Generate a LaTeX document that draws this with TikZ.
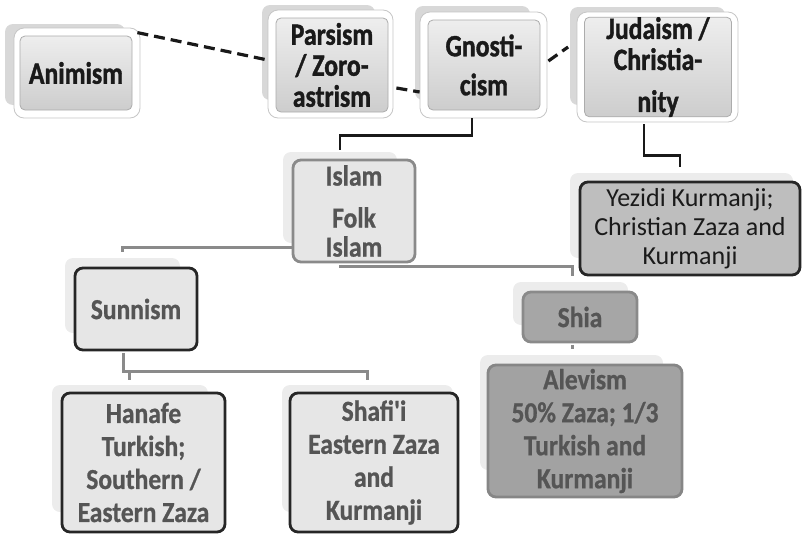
\documentclass[tikz,border=0pt]{standalone}
\usepackage{fontspec}
\setmainfont{Carlito}
\newfontfamily\topFam{Carlito}[FakeStretch=0.83, BoldFeatures={FakeBold=1.2}]
\newfontfamily\lowFam{Carlito}[FakeStretch=0.88, BoldFeatures={FakeBold=0.8}]
\definecolor{topA}{HTML}{EEEEEE}
\definecolor{topB}{HTML}{CDCDCD}
\definecolor{shTop}{HTML}{D8D8D8}
\definecolor{shLow}{HTML}{ECECEC}
\definecolor{fillLight}{HTML}{E6E6E6}
\definecolor{fillShia}{HTML}{A6A6A6}
\definecolor{fillAle}{HTML}{A2A2A2}
\definecolor{fillYez}{HTML}{BEBEBE}
\definecolor{txtDark}{HTML}{1A1A1A}
\definecolor{txtGray}{HTML}{555555}
\definecolor{lineGray}{HTML}{8A8A8A}
\newcommand{\myBoldFont}{\topFam\fontsize{31}{31}\selectfont\bfseries}
\newcommand{\myLowFont}{\lowFam\fontsize{29}{33}\selectfont\bfseries}
\newcommand{\myRegFont}{\fontsize{26}{29}\selectfont}
\tikzset{
  topbox/.style={draw=gray!65, line width=0.8pt, rounded corners=5pt, top color=topA, bottom color=topB,
    align=center, font=\myBoldFont, text=txtDark, inner sep=0pt},
  framebox/.style={fill=white, draw=gray!45, line width=0.8pt, rounded corners=10pt},
  shadowtop/.style={fill=shTop, rounded corners=8pt},
  shadowlow/.style={fill=shLow, rounded corners=8pt},
  lightbox/.style={draw=black!85, line width=2.8pt, rounded corners=8pt, fill=fillLight,
    align=center, font=\myLowFont, text=txtGray, inner sep=0pt},
  islambox/.style={lightbox, draw=lineGray},
  shiabox/.style={lightbox, draw=lineGray, fill=fillShia},
  alebox/.style={lightbox, draw=gray!95, fill=fillAle},
  yezbox/.style={lightbox, fill=fillYez, font=\myRegFont, text=txtDark},
  dashline/.style={draw=black!90, line width=3.2pt, dash pattern=on 11pt off 6pt},
  blkline/.style={draw=black!90, line width=2.8pt},
  gryline/.style={draw=lineGray, line width=3pt}
}
\begin{document}
\begin{tikzpicture}[x=1pt,y=-1pt]
\useasboundingbox (0,0) rectangle (803,533);
% shadows
\fill[shadowtop] (5,24) rectangle (125,105);
\fill[shadowtop] (262,5) rectangle (375,100);
\fill[shadowtop] (415,6) rectangle (530,100);
\fill[shadowtop] (570,7) rectangle (725,105);
\fill[shadowlow] (283,152) rectangle (397,243);
\fill[shadowlow] (570,173) rectangle (793,258);
\fill[shadowlow] (65,258) rectangle (180,333);
\fill[shadowlow] (513,282) rectangle (628,325);
\fill[shadowlow] (52,385) rectangle (208,512);
\fill[shadowlow] (282,385) rectangle (453,512);
\fill[shadowlow] (480,355) rectangle (663,470);
% white frames of the top boxes
\draw[framebox] (14,28) rectangle (140,118);
\draw[framebox] (268,10) rectangle (393,118);
\draw[framebox] (420,12) rectangle (547,118);
\draw[framebox] (577,12) rectangle (738,122);
% nodes
\node[topbox, minimum width=112pt, minimum height=74pt] (ani) at (76,73) {Animism};
\node[topbox, minimum width=112pt, minimum height=94pt] (par) at (332,65) {Parsism\\/ Zoro-\\astrism};
\node[topbox, minimum width=112pt, minimum height=90pt] (gno) at (484,65) {Gnosti-\\[8pt]cism};
\node[topbox, minimum width=147pt, minimum height=95pt] (jud) at (658,67) {Judaism /\\Christia-\\[11pt]nity};
\node[islambox, minimum width=122pt, minimum height=102pt] (isl) at (354,211) {Islam\\[9pt]Folk\\[-4pt]Islam};
\node[yezbox, minimum width=220pt, minimum height=93pt] (yez) at (690,228.5) {Yezidi Kurmanji;\\Christian Zaza and\\Kurmanji};
\node[lightbox, minimum width=122pt, minimum height=82pt] (sun) at (136,309) {Sunnism};
\node[shiabox, minimum width=114pt, minimum height=50pt] (shia) at (580,317) {Shia};
\node[alebox, minimum width=194pt, minimum height=132pt] (ale) at (585,431) {Alevism\\50\% Zaza; 1/3\\Turkish and\\Kurmanji};
\node[lightbox, minimum width=163pt, minimum height=139pt] (han) at (143.5,462.5) {Hanafe\\Turkish;\\Southern /\\Eastern Zaza};
\node[lightbox, minimum width=168pt, minimum height=139pt] (shaf) at (374,462.5) {Shafi'i\\Eastern Zaza\\and\\Kurmanji};
% dashed connectors
\draw[dashline] ([shift={(5,-3)}]ani.north east) -- ([shift={(-8,-5)}]par.west);
\draw[dashline] ([shift={(8,23)}]par.east) -- ([shift={(-8,27)}]gno.west);
\draw[dashline] ([shift={(8,-4)}]gno.east) -- ([shift={(-16,-20)}]jud.west);
% black connectors
\draw[blkline] ([shift={(-12,8)}]gno.south) |- ([shift={(-14,-23)}]isl.north) -- ([shift={(-14,-9)}]isl.north);
\draw[blkline] ([shift={(-14,7)}]jud.south) |- ([shift={(-10,-25)}]yez.north) -- ([shift={(-10,-14)}]yez.north);
% gray connectors
\draw[gryline] ([shift={(0,36)}]isl.west) -| ([shift={(-14,-15)}]sun.north);
\draw[gryline] ([shift={(-14,1.5)}]isl.south) |- ([shift={(-8,-24)}]shia.north) -- ([shift={(-8,-15)}]shia.north);
\draw[gryline] ([shift={(-13,1.5)}]sun.south) |- ([shift={(-7,-20)}]shaf.north) -- ([shift={(-7,-12)}]shaf.north);
\draw[gryline] ([shift={(-14.5,-20)}]han.north) -- ([shift={(-14.5,-12)}]han.north);
\draw[gryline] ([shift={(-8,1.5)}]shia.south) -- ([shift={(-13,-15)}]ale.north);
\end{tikzpicture}
\end{document}
